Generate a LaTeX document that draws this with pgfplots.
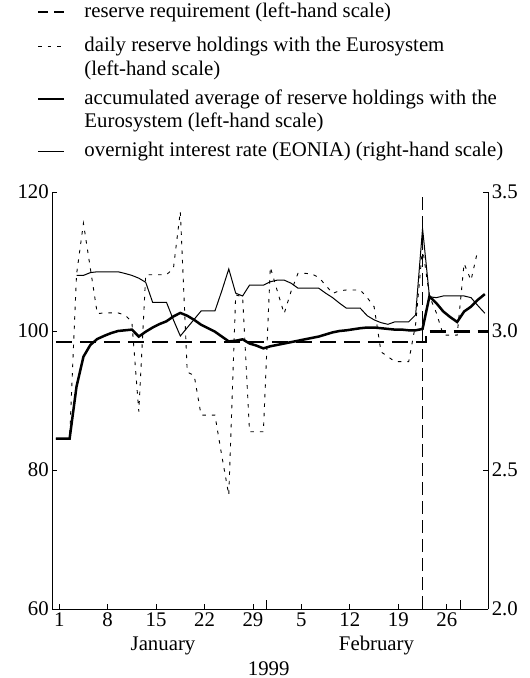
\documentclass[border=0pt]{standalone}
\usepackage{fontspec}
\setmainfont{Liberation Serif}
\usepackage{pgfplots}
\pgfplotsset{compat=1.18}
\newcommand{\lblfont}{\fontsize{20.8bp}{23.5bp}\selectfont}
\newcommand{\lgd}[1]{\begin{tabular}[t]{@{}l@{}}#1\end{tabular}}
\pgfplotsset{
  base/.style={
    scale only axis, width=436bp, height=417bp,
    xmin=0.5, xmax=63.5,
    at={(0,0)}, anchor=south west,
    tick align=inside,
    major tick length=5bp,
    every tick/.style={line width=0.8bp, black},
    axis line style={line width=1bp},
    tick label style={font=\lblfont},
    /pgf/number format/assume math mode=true,
    clip=false,
  },
}
\begin{document}
\begin{tikzpicture}
\path[use as bounding box] (-52.3bp,-69bp) rectangle (477.7bp,609bp);
\begin{axis}[base, ymin=60, ymax=120,
  axis x line*=bottom, axis y line*=left,
  ytick={60,80,100,120},
  xtick={1.5,8.5,15.5,22.5,29.5,36.5,43.5,50.5,57.5},
  xticklabels={1,8,15,22,29,5,12,19,26},
  extra x ticks={31.5,59.5}, extra x tick labels={},
  extra x tick style={major tick length=9bp},
]
% reserve requirement
\addplot[line width=2.5bp, dash pattern=on 16bp off 8bp] coordinates {(1,98.45) (54.5,98.45) (54.5,99.9) (63.5,99.9)};
% daily reserve holdings
\addplot[line width=0.9bp, dash pattern=on 3.5bp off 6bp] coordinates {
(1,84.5)(2,84.5)(3,84.5)(4,108.1)(5,115.5)(6,109.0)(7,102.5)(8,102.6)(9,102.6)(10,102.6)
(11,102.3)(12,101.3)(13,88.4)(14,108.1)(15,108.1)(16,108.1)(17,108.1)(18,109.0)(19,117.2)(20,94.1)
(21,93.6)(22,87.9)(23,87.9)(24,87.9)(25,82.0)(26,76.4)(27,105.2)(28,104.9)(29,85.5)(30,85.5)
(31,85.5)(32,109.2)(33,105.8)(34,102.5)(35,105.7)(36,108.3)(37,108.3)(38,108.2)(39,107.7)(40,106.6)
(41,105.4)(42,105.8)(43,105.9)(44,105.9)(45,105.9)(46,104.8)(47,103.5)(48,97.0)(49,96.3)(50,95.6)
(51,95.6)(52,95.6)(53,101.0)(54,112.0)(55,105.0)(56,102.6)(57,99.4)(58,99.4)(59,99.4)(60,109.7)
(61,107.3)(62,111.7)};
% accumulated average
\addplot[line width=2.5bp] coordinates {
(1,84.5)(2,84.5)(3,84.5)(4,92.0)(5,96.3)(6,98.0)(7,98.85)(8,99.3)(9,99.7)(10,100.0)
(11,100.1)(12,100.2)(13,99.2)(14,99.9)(15,100.5)(16,101.0)(17,101.4)(18,102.1)(19,102.6)(20,102.2)
(21,101.6)(22,100.9)(23,100.4)(24,99.9)(25,99.2)(26,98.5)(27,98.6)(28,98.8)(29,98.2)(30,97.9)
(31,97.5)(32,97.8)(33,98.0)(34,98.2)(35,98.4)(36,98.6)(37,98.8)(38,99.0)(39,99.2)(40,99.5)
(41,99.8)(42,100.0)(43,100.1)(44,100.25)(45,100.4)(46,100.5)(47,100.5)(48,100.4)(49,100.3)(50,100.2)
(51,100.2)(52,100.1)(53,100.1)(54,100.3)(55,105.0)(56,104.0)(57,102.8)(58,102.0)(59,101.3)(60,102.8)
(61,103.5)(62,104.5)(63,105.3)};
% end of maintenance period
\addplot[line width=0.8bp, dash pattern=on 13bp off 6bp] coordinates {(54,60) (54,120)};
\node[font=\lblfont, anchor=base] at (rel axis cs:0.2539,-0.1007) {January};
\node[font=\lblfont, anchor=base] at (rel axis cs:0.7436,-0.1007) {February};
\node[font=\lblfont, anchor=base] at (rel axis cs:0.4963,-0.1583) {1999};
\end{axis}
\begin{axis}[base, ymin=2, ymax=3.5,
  axis y line*=right, axis x line=none,
  ytick={2,2.5,3,3.5}, yticklabels={2.0,2.5,3.0,3.5},
  legend style={at={(-0.0351,1.458)}, anchor=north west, draw=none, fill=none,
    inner sep=0pt, outer sep=0pt, row sep=5.5bp, column sep=19bp,
    cells={anchor=base west},
    nodes={font=\lblfont, inner sep=0pt, text depth=, text height=}},
  legend image code/.code={\draw[#1] (0bp,5.5bp) -- (26bp,5.5bp);},
]
\addlegendimage{line width=2.5bp, dash pattern=on 10bp off 6bp}
\addlegendentry{\lgd{reserve requirement (left-hand scale)\rule[-12.5bp]{0pt}{0pt}}}
\addlegendimage{line width=0.9bp, dash pattern=on 3.5bp off 6bp}
\addlegendentry{\lgd{daily reserve holdings with the Eurosystem\\(left-hand scale)}}
\addlegendimage{line width=2.5bp}
\addlegendentry{\lgd{accumulated average of reserve holdings with the\\Eurosystem (left-hand scale)}}
% EONIA
\addplot[line width=1bp] coordinates {
(4,3.20)(5,3.20)(6,3.21)(7,3.213)(8,3.213)(9,3.213)(10,3.213)
(11,3.207)(12,3.20)(13,3.19)(14,3.175)(15,3.103)(16,3.103)(17,3.103)(18,3.04)(19,2.982)(20,3.012)
(21,3.042)(22,3.072)(23,3.072)(24,3.072)(25,3.145)(26,3.223)(27,3.136)(28,3.126)(29,3.165)(30,3.165)
(31,3.165)(32,3.177)(33,3.183)(34,3.183)(35,3.172)(36,3.154)(37,3.154)(38,3.154)(39,3.154)(40,3.136)
(41,3.12)(42,3.10)(43,3.082)(44,3.082)(45,3.082)(46,3.055)(47,3.04)(48,3.03)(49,3.024)(50,3.033)
(51,3.033)(52,3.033)(53,3.058)(54,3.369)(55,3.123)(56,3.12)(57,3.126)(58,3.126)(59,3.126)(60,3.126)
(61,3.12)(62,3.091)(63,3.064)};
\addlegendentry{\lgd{overnight interest rate (EONIA) (right-hand scale)}}
\end{axis}
\end{tikzpicture}
\end{document}
